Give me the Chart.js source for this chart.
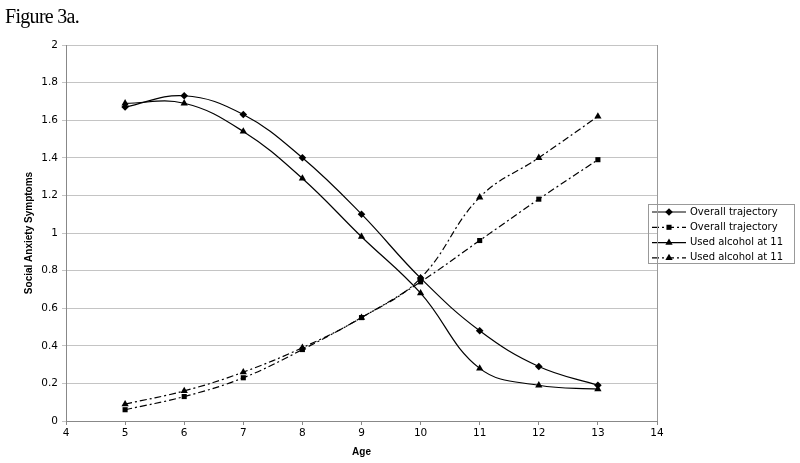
<!DOCTYPE html>
<html>
<head>
<meta charset="utf-8">
<script src="https://cdn.jsdelivr.net/npm/chart.js@4"></script>
<style>
  html, body { margin: 0; padding: 0; background: #fff; }
  #wrap { position: relative; width: 800px; height: 463px; }
  #fig { position: absolute; left: 5px; top: 5px; font-family: "Liberation Serif", serif; font-size: 20px; letter-spacing: -0.7px; color: #000; }
</style>
</head>
<body>
<div id="wrap">
  <div id="fig">Figure 3a.</div>
  <canvas id="chart" width="800" height="463"></canvas>
</div>
<script>
    // 데이터
    const ages = [5, 6, 7, 8, 9, 10, 11, 12, 13];
    const overallSolid = [1.67, 1.73, 1.63, 1.40, 1.10, 0.76, 0.48, 0.29, 0.19];
    const overallDashed = [0.06, 0.13, 0.23, 0.38, 0.55, 0.74, 0.96, 1.18, 1.39];
    const alcoholSolid = [1.69, 1.69, 1.54, 1.29, 0.98, 0.68, 0.28, 0.19, 0.17];
    const alcoholDashed = [0.09, 0.16, 0.26, 0.39, 0.55, 0.76, 1.19, 1.40, 1.62];
    const seriesLabels = ['Overall trajectory', 'Overall trajectory', 'Used alcohol at 11', 'Used alcohol at 11'];

    const dashDot = [7, 3, 2, 3];
    const titleFont = { family: 'Liberation Sans', size: 10, weight: 'bold' };

    function toPoints(values) {
        return ages.map((a, i) => ({ x: a, y: values[i] }));
    }

    function makeSet(label, values, style, dashed, radius) {
        return {
            label: label,
            data: toPoints(values),
            borderColor: '#000',
            backgroundColor: '#000',
            borderWidth: 1.2,
            borderDash: dashed ? dashDot : [],
            pointStyle: style,
            pointRadius: radius,
            pointBorderWidth: 0,
            tension: 0.4,
            fill: false
        };
    }

    // 범례 박스 직접 그리기
    const legendBox = {
        id: 'legendBox',
        afterDraw(chart) {
            const c = chart.ctx;
            const x0 = 648, y0 = 204, w = 146, h = 59, row = 15.3;
            c.save();
            c.strokeStyle = '#999';
            c.lineWidth = 1;
            c.strokeRect(x0 + 0.5, y0 + 0.5, w, h);
            c.font = '10px "DejaVu Sans"';
            c.textBaseline = 'middle';
            chart.data.datasets.forEach((ds, i) => {
                const y = y0 + 8 + i * row;
                c.strokeStyle = '#000';
                c.lineWidth = 1.2;
                c.setLineDash(ds.borderDash);
                c.beginPath();
                c.moveTo(x0 + 4, y);
                c.lineTo(x0 + 38, y);
                c.stroke();
                c.setLineDash([]);
                Chart.helpers.drawPoint(c, { pointStyle: ds.pointStyle, radius: ds.pointRadius, rotation: 0, borderWidth: 0 }, x0 + 21, y);
                c.fillStyle = '#000';
                c.fillText(ds.label, x0 + 42, y);
            });
            // 플롯 영역 오른쪽 테두리
            const a = chart.chartArea;
            c.strokeStyle = '#999';
            c.lineWidth = 1;
            c.beginPath();
            c.moveTo(Math.round(a.right) + 0.5, a.top);
            c.lineTo(Math.round(a.right) + 0.5, a.bottom);
            c.stroke();
            c.restore();
        }
    };

    const ctx = document.getElementById('chart').getContext('2d');
    new Chart(ctx, {
        type: 'line',
        data: {
            datasets: [
                makeSet(seriesLabels[0], overallSolid, 'rectRot', false, 3.8),
                makeSet(seriesLabels[1], overallDashed, 'rect', true, 3.6),
                makeSet(seriesLabels[2], alcoholSolid, 'triangle', false, 4.2),
                makeSet(seriesLabels[3], alcoholDashed, 'triangle', true, 4.2)
            ]
        },
        options: {
            responsive: false,
            animation: false,
            layout: { padding: { top: 45, right: 143, left: 23, bottom: 5 } },
            plugins: {
                legend: { display: false },
                tooltip: { enabled: false }
            },
            scales: {
                x: {
                    type: 'linear',
                    min: 4,
                    max: 14,
                    afterFit: function(scale) { scale.height = 37; },
                    ticks: {
                        stepSize: 1,
                        color: '#000',
                        font: { family: 'DejaVu Sans', size: 10.5 },
                        padding: 2
                    },
                    grid: { drawOnChartArea: false, color: '#888', tickLength: 4 },
                    border: { color: '#888' },
                    title: {
                        display: true,
                        text: 'Age',
                        color: '#000',
                        font: titleFont,
                        padding: { top: 1, bottom: 0 }
                    }
                },
                y: {
                    min: 0,
                    max: 2,
                    afterFit: function(scale) { scale.width = 43; },
                    ticks: {
                        stepSize: 0.2,
                        color: '#000',
                        font: { family: 'DejaVu Sans', size: 10.5 },
                        padding: 4,
                        callback: function(value) {
                            return String(Number(value.toFixed(1)));
                        }
                    },
                    grid: { color: '#c4c4c4', tickLength: 4 },
                    border: { color: '#888' },
                    title: {
                        display: true,
                        text: 'Social Anxiety Symptoms',
                        color: '#000',
                        font: titleFont,
                        padding: { top: 0, bottom: 0 }
                    }
                }
            }
        },
        plugins: [legendBox]
    });
</script>
</body>
</html>
